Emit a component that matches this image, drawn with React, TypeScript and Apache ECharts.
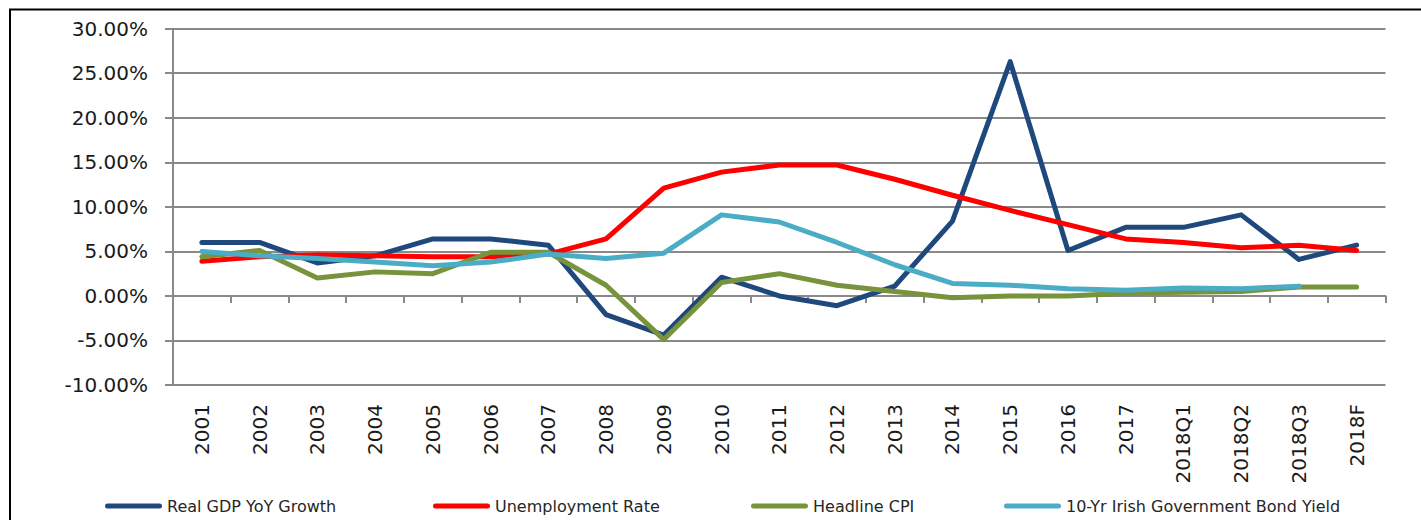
import React, { useEffect, useRef } from "react";
import * as echarts from "echarts";

const categories = [
  "2001", "2002", "2003", "2004", "2005", "2006", "2007", "2008", "2009", "2010",
  "2011", "2012", "2013", "2014", "2015", "2016", "2017", "2018Q1", "2018Q2", "2018Q3", "2018F",
];

const gdpGrowth = [6.0, 6.0, 3.7, 4.5, 6.4, 6.4, 5.7, -2.1, -4.4, 2.1, 0.0, -1.1, 1.1, 8.4, 26.3, 5.1, 7.7, 7.7, 9.1, 4.1, 5.7];
const unemployment = [3.9, 4.4, 4.6, 4.5, 4.4, 4.4, 4.7, 6.4, 12.1, 13.9, 14.7, 14.7, 13.1, 11.3, 9.6, 8.0, 6.4, 6.0, 5.4, 5.7, 5.1];
const cpi = [4.4, 5.1, 2.0, 2.7, 2.5, 4.9, 4.9, 1.2, -4.9, 1.5, 2.5, 1.2, 0.5, -0.2, 0.0, 0.0, 0.3, 0.4, 0.5, 1.0, 1.0];
const bondYield = [5.0, 4.5, 4.2, 3.8, 3.4, 3.8, 4.7, 4.2, 4.8, 9.1, 8.3, 6.0, 3.5, 1.4, 1.2, 0.8, 0.65, 0.9, 0.8, 1.1, null];

const seriesNames = [
  "Real GDP YoY Growth",
  "Unemployment Rate",
  "Headline CPI",
  "10-Yr Irish Government Bond Yield",
];
const seriesColors = ["#1F497D", "#FF0000", "#77933C", "#4BACC6"];
const legendLefts = [105, 433, 751, 1004];

export default function App() {
  const ref = useRef<HTMLDivElement>(null);

  useEffect(() => {
    if (!ref.current) return;
    const chart = echarts.init(ref.current, undefined, { renderer: "svg" });
    const values = [gdpGrowth, unemployment, cpi, bondYield];
    const gridColor = "#898989";
    const font = "DejaVu Sans";
    const capsule = "path://M2.5,0 H54.5 A2.5,2.5 0 0 1 54.5,5 H2.5 A2.5,2.5 0 0 1 2.5,0 Z";

    chart.setOption({
      animation: false,
      backgroundColor: "#ffffff",
      graphic: [
        {
          type: "rect",
          shape: { x: 10, y: 9.5, width: 1600, height: 700 },
          style: { fill: "none", stroke: "#000000", lineWidth: 2 },
          silent: true,
        },
      ],
      grid: { left: 173, right: 35.5, top: 28.7, bottom: 135, containLabel: false },
      legend: seriesNames.map((n, i) => ({
        data: [n],
        left: legendLefts[i],
        top: 498,
        padding: 0,
        itemWidth: 57,
        itemHeight: 5,
        icon: capsule,
        selectedMode: false,
        textStyle: { fontFamily: font, fontSize: 16, color: "#262626" },
      })),
      xAxis: [
        {
          type: "category",
          data: categories,
          position: "bottom",
          boundaryGap: true,
          axisLine: { show: false, onZero: false },
          axisTick: { show: false },
          splitLine: { show: false },
          axisLabel: {
            rotate: 90,
            margin: 19,
            interval: 0,
            fontFamily: font,
            fontSize: 20,
            color: "#1a1a1a",
          },
        },
        {
          type: "category",
          data: categories,
          position: "bottom",
          boundaryGap: true,
          axisLine: { show: true, onZero: true, lineStyle: { color: gridColor, width: 2 } },
          axisTick: { show: true, length: 7, interval: 0, lineStyle: { color: gridColor, width: 2 } },
          axisLabel: { show: false },
          splitLine: { show: false },
        },
      ],
      yAxis: {
        type: "value",
        min: -10,
        max: 30,
        interval: 5,
        axisLine: { show: true, lineStyle: { color: gridColor, width: 2 } },
        axisTick: { show: true, length: 8, lineStyle: { color: gridColor, width: 2 } },
        splitLine: { show: true, lineStyle: { color: gridColor, width: 2 } },
        axisLabel: {
          margin: 25,
          fontFamily: font,
          fontSize: 20,
          color: "#1a1a1a",
          formatter: (v: number) => v.toFixed(2) + "%",
        },
      },
      series: values.map((d, i) => ({
        name: seriesNames[i],
        type: "line",
        xAxisIndex: 0,
        data: d,
        symbol: "none",
        showSymbol: false,
        smooth: false,
        color: seriesColors[i],
        lineStyle: { color: seriesColors[i], width: 5, cap: "round", join: "round" },
      })),
    });

    return () => chart.dispose();
  }, []);

  return (
    <div
      ref={ref}
      style={{ position: "fixed", left: 0, top: 0, width: 1421, height: 520, background: "#fff" }}
    />
  );
}
